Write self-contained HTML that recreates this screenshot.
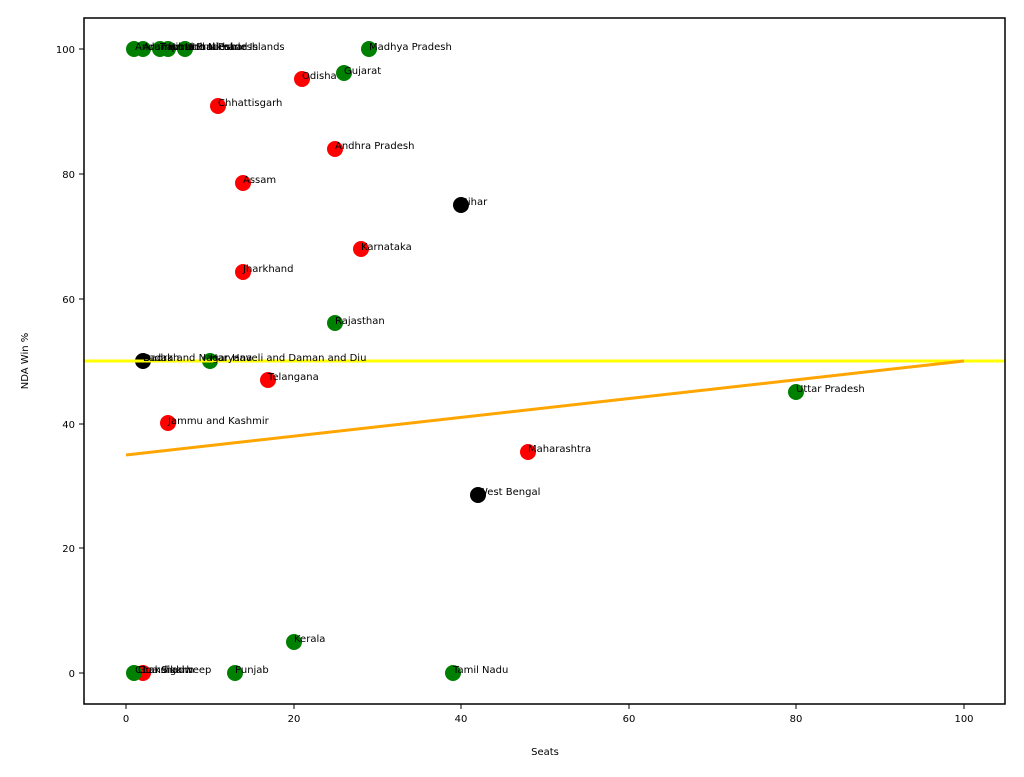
<!DOCTYPE html>
<html><head><meta charset="utf-8"><style>body{margin:0;background:#fff}svg{display:block;font-family:"DejaVu Sans","Liberation Sans",sans-serif}</style></head><body>
<svg width="1024" height="777" viewBox="0 0 1024 777">
<rect width="1024" height="777" fill="#fff"/>
<g>
<circle cx="134" cy="49" r="8" fill="green"/><circle cx="143" cy="49" r="8" fill="green"/><circle cx="160" cy="49" r="8" fill="green"/><circle cx="168" cy="49" r="8" fill="green"/><circle cx="185" cy="49" r="8" fill="green"/>
<circle cx="369" cy="49" r="8" fill="green"/>
<circle cx="344" cy="73" r="8" fill="green"/>
<circle cx="302" cy="79" r="8" fill="red"/>
<circle cx="218" cy="106" r="8" fill="red"/>
<circle cx="335" cy="149" r="8" fill="red"/>
<circle cx="243" cy="183" r="8" fill="red"/>
<circle cx="461" cy="205" r="8" fill="black"/>
<circle cx="361" cy="249" r="8" fill="red"/>
<circle cx="243" cy="272" r="8" fill="red"/>
<circle cx="335" cy="323" r="8" fill="green"/>
<circle cx="143" cy="361" r="8" fill="black"/><circle cx="210" cy="361" r="8" fill="green"/>
<circle cx="268" cy="380" r="8" fill="red"/>
<circle cx="796" cy="392" r="8" fill="green"/>
<circle cx="168" cy="423" r="8" fill="red"/>
<circle cx="528" cy="452" r="8" fill="red"/>
<circle cx="478" cy="495" r="8" fill="black"/>
<circle cx="294" cy="642" r="8" fill="green"/>
<circle cx="143" cy="673" r="8" fill="red"/><circle cx="134" cy="673" r="8" fill="green"/>
<circle cx="235" cy="673" r="8" fill="green"/>
<circle cx="453" cy="673" r="8" fill="green"/>
</g>
<line x1="84" y1="361" x2="1005" y2="361" stroke="#ffff00" stroke-width="3"/>
<line x1="126" y1="455" x2="964" y2="361" stroke="#ffa500" stroke-width="3"/>
<g font-size="10" fill="#000">
<text x="135" y="50">Andaman and Nicobar Islands</text><text x="143" y="50">Arunachal Pradesh</text><text x="160" y="50">Tripura</text><text x="168" y="50">Himachal Pradesh</text><text x="185" y="50">Uttarakhand</text>
<text x="369" y="50">Madhya Pradesh</text>
<text x="344" y="74">Gujarat</text>
<text x="302" y="79">Odisha</text>
<text x="218" y="106">Chhattisgarh</text>
<text x="335" y="149">Andhra Pradesh</text>
<text x="243" y="183">Assam</text>
<text x="461" y="205">Bihar</text>
<text x="361" y="250">Karnataka</text>
<text x="243" y="272">Jharkhand</text>
<text x="335" y="324">Rajasthan</text>
<text x="143" y="361">Dadra and Nagar Haveli and Daman and Diu</text><text x="143" y="361">Ladakh</text><text x="210" y="361">Haryana</text>
<text x="268" y="380">Telangana</text>
<text x="796" y="392">Uttar Pradesh</text>
<text x="168" y="424">Jammu and Kashmir</text>
<text x="528" y="452">Maharashtra</text>
<text x="478" y="495">West Bengal</text>
<text x="294" y="642">Kerala</text>
<text x="135" y="673">Chandigarh</text><text x="143" y="673">Lakshadweep</text><text x="138" y="673">Goa Sikkim</text>
<text x="235" y="673">Punjab</text>
<text x="453" y="673">Tamil Nadu</text>
</g>
<rect x="84" y="18" width="921" height="686" fill="none" stroke="#000" stroke-width="1.5"/>
<g stroke="#000" stroke-width="1">
<line x1="126" y1="704" x2="126" y2="709"/><line x1="294" y1="704" x2="294" y2="709"/><line x1="461" y1="704" x2="461" y2="709"/><line x1="629" y1="704" x2="629" y2="709"/><line x1="796" y1="704" x2="796" y2="709"/><line x1="964" y1="704" x2="964" y2="709"/>
<line x1="79" y1="673" x2="84" y2="673"/><line x1="79" y1="548" x2="84" y2="548"/><line x1="79" y1="424" x2="84" y2="424"/><line x1="79" y1="299" x2="84" y2="299"/><line x1="79" y1="174" x2="84" y2="174"/><line x1="79" y1="49" x2="84" y2="49"/>
</g>
<g font-size="10" fill="#000" text-anchor="middle">
<text x="126" y="722">0</text><text x="294" y="722">20</text><text x="461" y="722">40</text><text x="629" y="722">60</text><text x="796" y="722">80</text><text x="964" y="722">100</text>
<text x="545" y="755">Seats</text>
</g>
<g font-size="10" fill="#000" text-anchor="end">
<text x="75" y="677">0</text><text x="75" y="552">20</text><text x="75" y="428">40</text><text x="75" y="303">60</text><text x="75" y="178">80</text><text x="75" y="53">100</text>
</g>
<text x="28" y="361" font-size="10" text-anchor="middle" transform="rotate(-90 28 361)">NDA Win %</text>
</svg>
</body></html>
